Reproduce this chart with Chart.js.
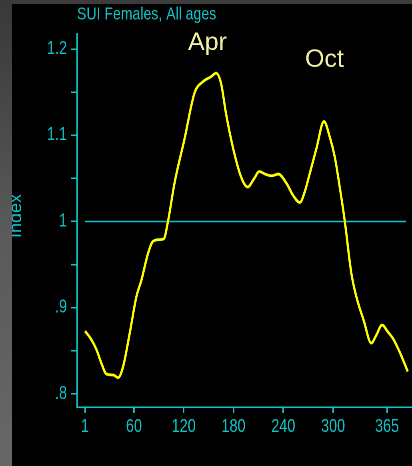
<!DOCTYPE html>
<html lang="en">
<head>
  <meta charset="UTF-8">
  <meta name="viewport" content="width=device-width, initial-scale=1.0">
  <title>SUI Females, All ages</title>
  <style>
    html, body { margin: 0; padding: 0; background: #000; }
    #marco { position: relative; width: 412px; height: 466px; overflow: hidden; background: #000; }
    /* the original export has narrow type: draw wider and squeeze horizontally */
    #grafico { position: absolute; left: 0; top: 0; transform: scaleX(0.8); transform-origin: 0 0; }
    /* gray frame strips of the original export */
    #franja-izq { position: absolute; left: 0; top: 0; width: 12px; height: 466px;
      background: linear-gradient(#383838, #5a5a5a 50%, #676767); }
    #franja-sup { position: absolute; left: 12px; top: 0; width: 400px; height: 4px; background: #3c3c3c; }
  </style>
</head>
<body>

  <div id="marco">
    <canvas id="grafico" width="515" height="466"></canvas>
    <div id="franja-izq"></div>
    <div id="franja-sup"></div>
  </div>

  <script src="https://cdn.jsdelivr.net/npm/chart.js"></script>

  <script>
    // day of year and seasonal index
    const dias   = [1, 8, 15, 21, 27, 35, 41, 47, 55, 63, 69, 77, 83, 91, 96, 101, 109, 121, 133, 143,
                    153, 159, 165, 171, 179, 189, 197, 205, 211, 218, 226, 234, 244, 252, 260, 266, 272, 280, 289, 296,
                    302, 308, 314, 322, 328, 337, 346, 352, 359, 366, 373, 381, 390];
    const indice = [0.873, 0.864, 0.851, 0.835, 0.823, 0.822, 0.819, 0.832, 0.871, 0.913, 0.932, 0.963, 0.977, 0.979, 0.980, 1.000, 1.045, 1.096, 1.149, 1.162,
                    1.168, 1.172, 1.160, 1.125, 1.087, 1.052, 1.040, 1.050, 1.058, 1.055, 1.053, 1.055, 1.044, 1.030, 1.022, 1.035, 1.056, 1.085, 1.116, 1.098,
                    1.075, 1.040, 1.001, 0.940, 0.913, 0.885, 0.859, 0.868, 0.880, 0.872, 0.863, 0.847, 0.826];

    const refDias  = [1, 388];
    const refValor = [1, 1];

    const ticksX = [1, 60, 120, 180, 240, 300, 365];
    const ticksY = [0.8, 0.85, 0.9, 0.95, 1, 1.05, 1.1, 1.15, 1.2];
    const etiquetasY = { 0.8: '.8', 0.9: '.9', 1: '1', 1.1: '1.1', 1.2: '1.2' };

    const titulo = 'SUI Females, All ages';
    const tituloY = 'Index';
    const marcas = [{ texto: 'Apr', x: 188, y: 50 }, { texto: 'Oct', x: 305, y: 67 }];

    const K = 0.8;               // horizontal squeeze of the canvas
    const CIAN = '#10c4c8';
    const fuente = "'Liberation Sans', Arial, sans-serif";

    // texts that sit outside the chart area
    const textos = {
      id: 'textos',
      afterDraw(chart) {
        const ctx = chart.ctx;
        ctx.save();
        ctx.fillStyle = CIAN;
        ctx.font = `17.6px ${fuente}`;
        ctx.textAlign = 'left';
        ctx.textBaseline = 'alphabetic';
        ctx.fillText(titulo, 77 / K, 19.5);

        ctx.translate(21 / K, 216);
        ctx.scale(1 / K, 1);
        ctx.rotate(-Math.PI / 2);
        ctx.textAlign = 'center';
        ctx.font = `18px ${fuente}`;
        ctx.fillText(tituloY, 0, 0);
        ctx.restore();

        // month labels keep normal width
        ctx.fillStyle = '#f2f0a0';
        ctx.font = `25px ${fuente}`;
        marcas.forEach(m => {
          ctx.save();
          ctx.translate(m.x / K, m.y);
          ctx.scale(1 / K, 1);
          ctx.fillText(m.texto, 0, 0);
          ctx.restore();
        });
      }
    };

    new Chart(document.getElementById('grafico'), {
      type: 'line',
      data: {
        datasets: [
          {
            data: dias.map((d, i) => ({ x: d, y: indice[i] })),
            borderColor: '#ffff00',
            borderWidth: 2.8,
            pointRadius: 0,
            cubicInterpolationMode: 'monotone'
          },
          {
            data: refDias.map((d, i) => ({ x: d, y: refValor[i] })),
            borderColor: CIAN,
            borderWidth: 1.5,
            pointRadius: 0
          }
        ]
      },
      options: {
        responsive: false,
        animation: false,
        devicePixelRatio: 2,
        layout: { padding: { top: 34, left: 0, right: 0, bottom: 0 } },
        plugins: { legend: { display: false }, tooltip: { enabled: false }, title: { display: false } },
        scales: {
          x: {
            type: 'linear',
            min: -8.64, max: 395.1,
            afterBuildTicks: s => { s.ticks = ticksX.map(v => ({ value: v })); },
            afterFit: s => { s.height = 59; },
            grid: { drawOnChartArea: false, color: CIAN, tickLength: 6, lineWidth: 1.9 },
            border: { color: CIAN, width: 1.5 },
            ticks: { color: CIAN, font: { family: fuente, size: 18 }, padding: 3, maxRotation: 0, autoSkip: false }
          },
          y: {
            type: 'linear',
            min: 0.7849, max: 1.2174,
            afterBuildTicks: s => { s.ticks = ticksY.map(v => ({ value: v })); },
            afterFit: s => { s.width = 77 / K; },
            grid: { drawOnChartArea: false, color: CIAN, tickLength: 6 / K, lineWidth: 1.5 },
            border: { color: CIAN, width: 1.9 },
            ticks: { color: CIAN, font: { family: fuente, size: 18 }, padding: 5, autoSkip: false,
                     callback: v => etiquetasY[v] ?? '' }
          }
        }
      },
      plugins: [textos]
    });
  </script>

</body>
</html>
